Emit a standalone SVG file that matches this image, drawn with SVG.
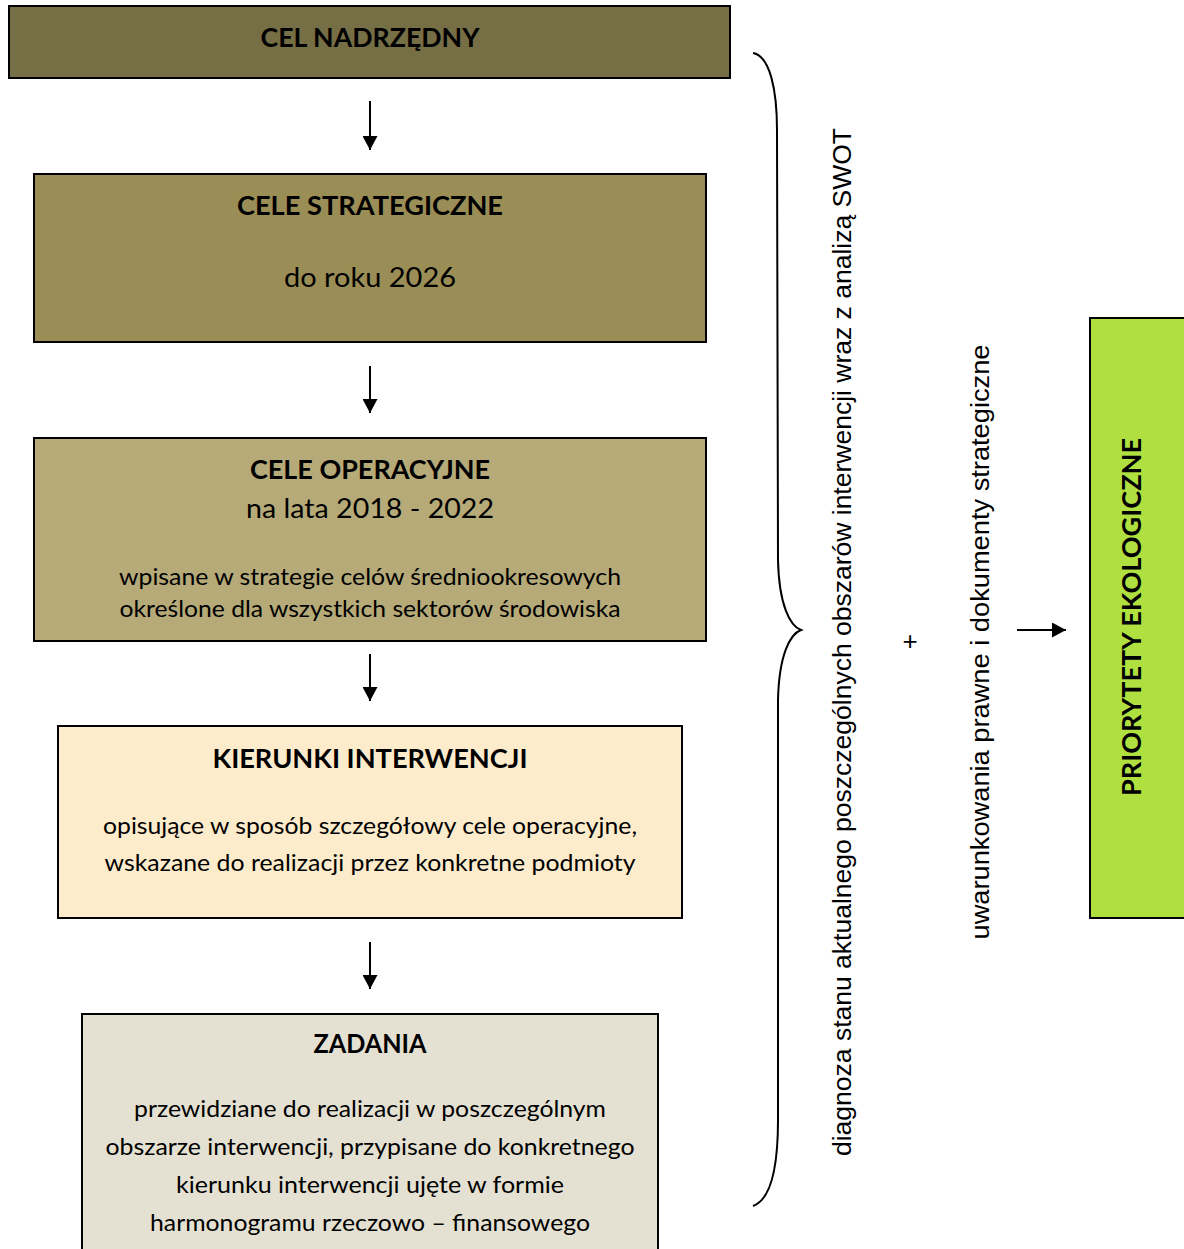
<svg xmlns="http://www.w3.org/2000/svg" width="1184" height="1249" viewBox="0 0 1184 1249">
<defs>
<marker id="ah" viewBox="0 0 14 15" markerWidth="14" markerHeight="15" refX="14" refY="7.5" orient="auto" markerUnits="userSpaceOnUse">
<path d="M0,0 L14,7.5 L0,15 Z" fill="#000"/>
</marker>
<style>
.box{stroke:#000;stroke-width:2}
.t{font-family:Lato,"Liberation Sans",sans-serif;fill:#000;text-anchor:middle}
.b{font-weight:bold;font-size:26px}
.n{font-size:23px}
.v{font-family:"Liberation Sans",Arial,sans-serif;font-size:26px;fill:#000;text-anchor:middle}
.c{stroke:#000;stroke-width:2;fill:none}
</style>
</defs>
<rect width="1184" height="1249" fill="#fff"/>
<g id="cel-nadrzedny">
<rect class="box" x="9" y="6" width="721" height="72" fill="#766e45"/>
<text class="t b" x="370" y="47" textLength="219" lengthAdjust="spacingAndGlyphs">CEL NADRZĘDNY</text>
</g>
<g id="cele-strategiczne">
<rect class="box" x="34" y="174" width="672" height="168" fill="#9a8e56"/>
<text class="t b" x="370" y="215" textLength="266" lengthAdjust="spacingAndGlyphs">CELE STRATEGICZNE</text>
<text class="t" x="370" y="287" font-size="27" textLength="172" lengthAdjust="spacingAndGlyphs">do roku 2026</text>
</g>
<g id="cele-operacyjne">
<rect class="box" x="34" y="438" width="672" height="203" fill="#b5aa78"/>
<text class="t b" x="370" y="479" textLength="240" lengthAdjust="spacingAndGlyphs">CELE OPERACYJNE</text>
<text class="t" x="370" y="518" font-size="27" textLength="248" lengthAdjust="spacingAndGlyphs">na lata 2018 - 2022</text>
<text class="t n" x="370" y="585" textLength="502" lengthAdjust="spacingAndGlyphs">wpisane w strategie celów średniookresowych</text>
<text class="t n" x="370" y="617" textLength="501" lengthAdjust="spacingAndGlyphs">określone dla wszystkich sektorów środowiska</text>
</g>
<g id="kierunki-interwencji">
<rect class="box" x="58" y="726" width="624" height="192" fill="#fdeccc"/>
<text class="t b" x="370" y="768" textLength="315" lengthAdjust="spacingAndGlyphs">KIERUNKI INTERWENCJI</text>
<text class="t n" x="370" y="834" textLength="534" lengthAdjust="spacingAndGlyphs">opisujące w sposób szczegółowy cele operacyjne,</text>
<text class="t n" x="370" y="871" textLength="531" lengthAdjust="spacingAndGlyphs">wskazane do realizacji przez konkretne podmioty</text>
</g>
<g id="zadania">
<rect class="box" x="82" y="1014" width="576" height="250" fill="#e4e1d2"/>
<text class="t b" x="370" y="1053" textLength="113" lengthAdjust="spacingAndGlyphs">ZADANIA</text>
<text class="t n" x="370" y="1117" textLength="472" lengthAdjust="spacingAndGlyphs">przewidziane do realizacji w poszczególnym</text>
<text class="t n" x="370" y="1155" textLength="529" lengthAdjust="spacingAndGlyphs">obszarze interwencji, przypisane do konkretnego</text>
<text class="t n" x="370" y="1193" textLength="388" lengthAdjust="spacingAndGlyphs">kierunku interwencji ujęte w formie</text>
<text class="t n" x="370" y="1231" textLength="440" lengthAdjust="spacingAndGlyphs">harmonogramu rzeczowo – finansowego</text>
</g>
<g id="diagnoza">
<text class="v" transform="translate(851,642) rotate(-90)" textLength="1028" lengthAdjust="spacingAndGlyphs">diagnoza stanu aktualnego poszczególnych obszarów interwencji wraz z analizą  SWOT</text>
</g>
<g id="plus">
<text x="910" y="650" font-family="Liberation Sans,Arial,sans-serif" font-size="26" text-anchor="middle">+</text>
</g>
<g id="uwarunkowania">
<text class="v" transform="translate(989,642) rotate(-90)" textLength="595" lengthAdjust="spacingAndGlyphs">uwarunkowania prawne i dokumenty strategiczne</text>
</g>
<g id="priorytety">
<rect class="box" x="1090" y="318" width="100" height="600" fill="#b0e040"/>
<text class="t b" transform="translate(1141,617) rotate(-90)" textLength="358" lengthAdjust="spacingAndGlyphs">PRIORYTETY EKOLOGICZNE</text>
</g>
<g id="connectors">
<line class="c" x1="370" y1="101" x2="370" y2="150" marker-end="url(#ah)"/>
<line class="c" x1="370" y1="366" x2="370" y2="413" marker-end="url(#ah)"/>
<line class="c" x1="370" y1="654" x2="370" y2="701" marker-end="url(#ah)"/>
<line class="c" x1="370" y1="942" x2="370" y2="989" marker-end="url(#ah)"/>
<line class="c" x1="1017" y1="630" x2="1066" y2="630" marker-end="url(#ah)"/>
<path class="c" d="M753,53 C770,56 777,90 777,130 L778,560 C779,605 790,626 801,630 C790,634 779,655 778,700 L778,1120 C778,1170 770,1200 753,1206"/>
</g>
</svg>
